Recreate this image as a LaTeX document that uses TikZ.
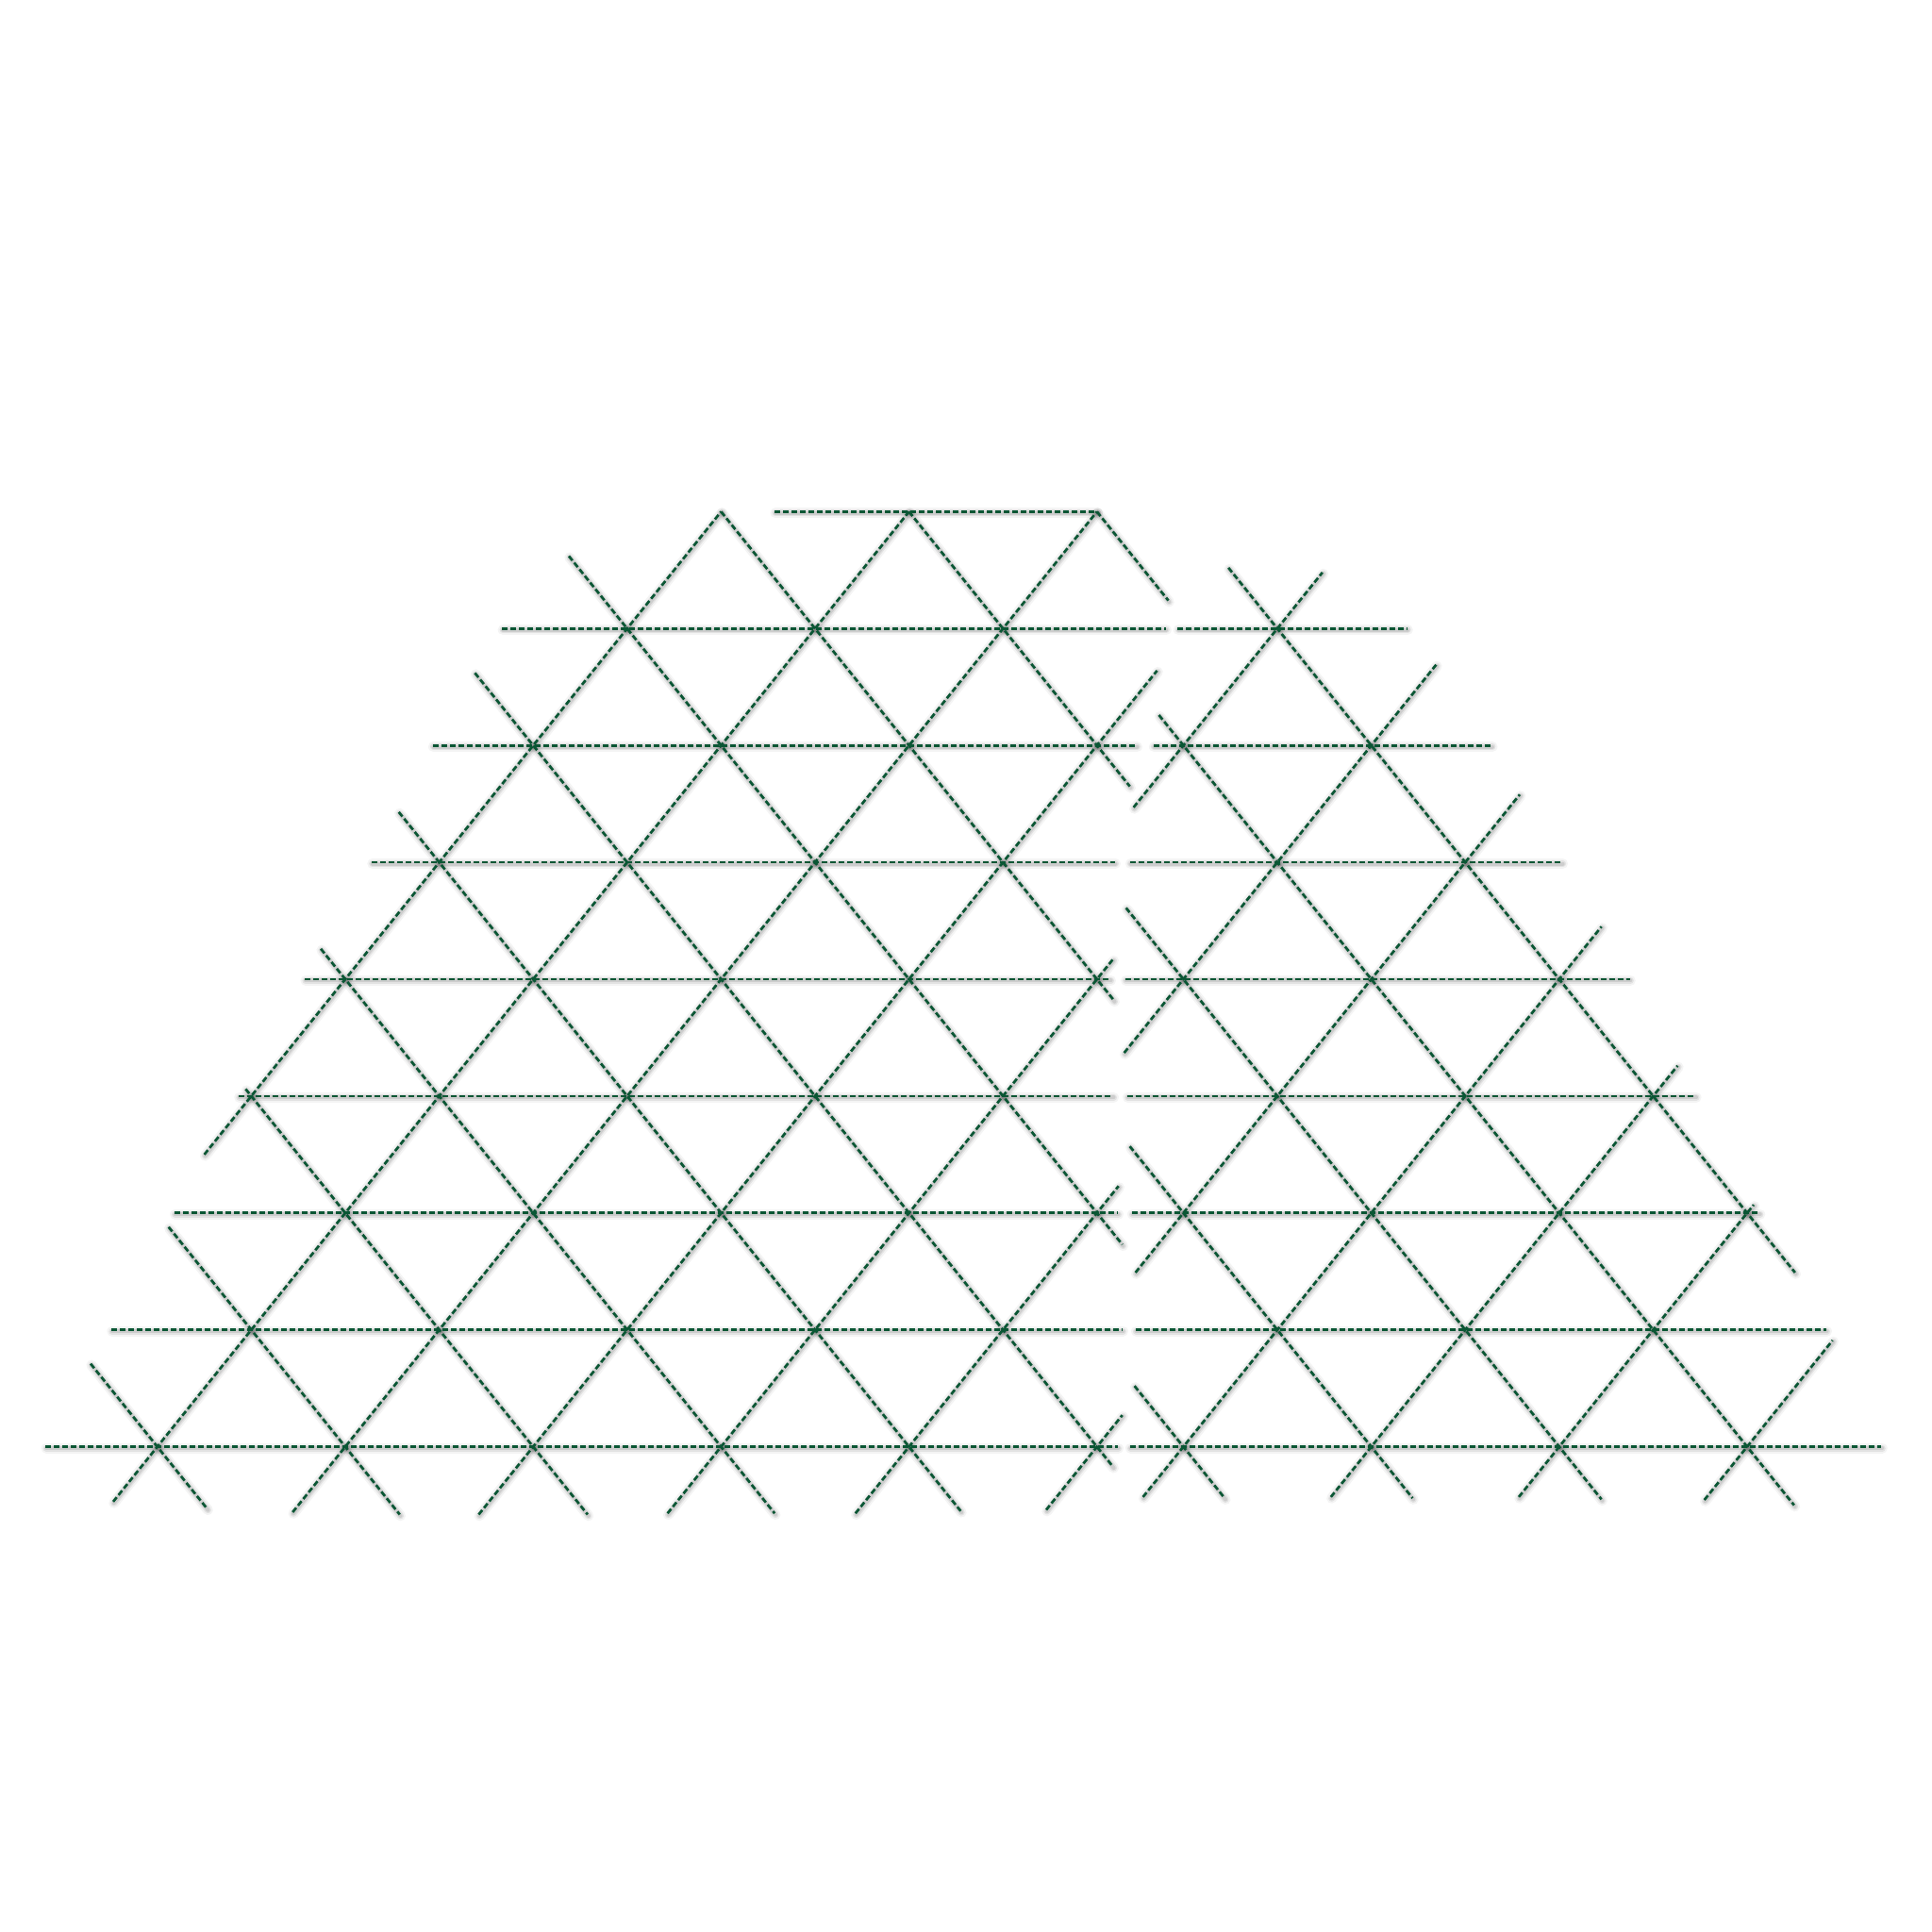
\documentclass[tikz,border=0pt]{standalone}
\usepackage{xcolor}
\definecolor{netgreen}{RGB}{10,86,52}

% all bonds of the two lattice blocks, drawn with the style "net"
\newcommand{\trilattice}{%
% left block: rows
\draw[net] (6.57,8) -- (10,8);
\draw[net] (3.67,7) -- (10.73,7);
\draw[net] (2.93,6) -- (10.42,6);
\draw[net] (2.28,5) -- (10.19,5);
\draw[net] (1.57,4) -- (10.14,4);
\draw[net] (0.865,3) -- (10.17,3);
\draw[net] (0.18,2) -- (10.22,2);
\draw[net] (-0.49,1) -- (10.27,1);
\draw[net] (-1.19,0) -- (10.22,0);
% left block: rising bonds
\draw[net] (0.5,2.5) -- (6,8);
\draw[net] (-0.47,-0.47) -- (8,8);
\draw[net] (1.44,-0.56) -- (10,8);
\draw[net] (3.42,-0.58) -- (10.64,6.64);
\draw[net] (5.43,-0.57) -- (10.17,4.17);
\draw[net] (7.43,-0.57) -- (10.23,2.23);
\draw[net] (9.46,-0.54) -- (10.27,0.27);
% left block: falling bonds
\draw[net] (-0.71,0.71) -- (0.53,-0.53);
\draw[net] (0.12,1.88) -- (2.58,-0.58);
\draw[net] (0.94,3.06) -- (4.58,-0.58);
\draw[net] (1.74,4.26) -- (6.57,-0.57);
\draw[net] (2.57,5.43) -- (8.55,-0.55);
\draw[net] (3.38,6.62) -- (10.17,-0.17);
\draw[net] (4.38,7.62) -- (10.27,1.73);
\draw[net] (6,8) -- (10.18,3.82);
\draw[net] (8,8) -- (10.35,5.65);
\draw[net] (10,8) -- (10.76,7.24);
% right block, slipped along the rows
\begin{scope}[xshift=0.9163cm]
\draw[net] (9.94,7) -- (12.38,7);
\draw[net] (9.68,6) -- (13.28,6);
\draw[net] (9.43,5) -- (14.03,5);
\draw[net] (9.38,4) -- (14.75,4);
\draw[net] (9.40,3) -- (15.45,3);
\draw[net] (9.45,2) -- (16.13,2);
\draw[net] (9.49,1) -- (16.84,1);
\draw[net] (9.43,0) -- (17.43,0);
\draw[net] (9.47,5.47) -- (11.48,7.48);
\draw[net] (9.37,3.37) -- (12.69,6.69);
\draw[net] (9.49,1.49) -- (13.58,5.58);
\draw[net] (9.57,-0.43) -- (14.45,4.45);
\draw[net] (11.57,-0.43) -- (15.26,3.26);
\draw[net] (13.57,-0.43) -- (16.07,2.07);
\draw[net] (15.545,-0.455) -- (16.91,0.91);
\draw[net] (9.48,0.52) -- (10.44,-0.44);
\draw[net] (9.43,2.57) -- (12.44,-0.44);
\draw[net] (9.39,4.61) -- (14.45,-0.45);
\draw[net] (9.74,6.26) -- (16.5,-0.5);
\draw[net] (10.48,7.52) -- (16.51,1.49);
\end{scope}}

\begin{document}
\begin{tikzpicture}[x=0.996cm, y=1.239cm]
\useasboundingbox[fill=white] (-1.668cm,-5.144cm) rectangle (18.812cm,15.336cm);

% soft shadow under the bonds
\begin{scope}[transform canvas={shift={(0.008cm,-0.014cm)}}]
\begin{scope}[net/.style={draw=black, opacity=0.045, line width=0.11cm, line cap=round}]
\trilattice
\end{scope}
\begin{scope}[net/.style={draw=black, opacity=0.07, line width=0.07cm, line cap=round}]
\trilattice
\end{scope}
\begin{scope}[net/.style={draw=black, opacity=0.09, line width=0.04cm, line cap=round}]
\trilattice
\end{scope}
\end{scope}

% the bonds
\begin{scope}[net/.style={draw=netgreen, line width=0.027cm, dash pattern=on 0.06cm off 0.03cm}]
\trilattice
\end{scope}
\end{tikzpicture}
\end{document}
